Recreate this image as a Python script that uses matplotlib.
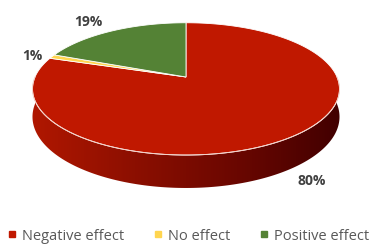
import numpy as np
import matplotlib.pyplot as plt
from matplotlib.lines import Line2D
from matplotlib.patches import Polygon
import matplotlib.colors as mcolors

labels = ['Negative effect', 'No effect', 'Positive effect']
values = [80, 1, 19]
colors = ['#C01800', '#FFD54F', '#548235']
pct_labels = ['80%', '1%', '19%']

# pie geometry in pixels (perspective ellipse)
cx, cy = 186, 77
a, b, k = 151, 64, 0.18
h = 27


def proj(theta, drop=0.0):
    # theta in degrees, clockwise from 12 o'clock (far side)
    t = np.radians(theta)
    u, v = np.sin(t), np.cos(t)
    s = 1 + k * v
    return cx + a * u / s, cy - b * v / s + drop / s


fig = plt.figure(figsize=(3.73, 2.46), dpi=100)
ax = fig.add_axes([0, 0, 1, 1])

# side wall (visible front half), shaded left->right
side_cmap = mcolors.LinearSegmentedColormap.from_list(
    'side', ['#B01700', '#8C0F00', '#6A0700', '#420000'])
th = np.linspace(270, 90, 200)
xt, yt = proj(th)
xb, yb = proj(th[::-1], h)
side = Polygon(np.c_[np.r_[xt, xb], np.r_[yt, yb]], closed=True,
               fc='none', ec='none')
ax.add_patch(side)
grad = np.linspace(0, 1, 256)[None, :]
img = ax.imshow(grad, cmap=side_cmap, extent=(xt.min(), xt.max(), 200, 80),
                aspect='auto', zorder=1)
img.set_clip_path(side)

# top face wedges
total = sum(values)
start = 0.0
for val, col in zip(values, colors):
    span = 360 * val / total
    tt = np.linspace(start, start + span, max(int(span), 2) + 1)
    xs, ys = proj(tt)
    ax.fill(np.r_[cx, xs], np.r_[cy, ys], color=col, ec='white', lw=0.6,
            zorder=2)
    start += span

# edge between top and side
tt = np.linspace(90, 270, 200)
xs, ys = proj(tt)
ax.plot(xs, ys, color='#F3D0C8', lw=0.7, zorder=3)

# data labels
label_pos = [(312, 181), (32, 56), (88, 22)]
for (x, y), txt in zip(label_pos, pct_labels):
    ax.text(x, y, txt, ha='center', va='center', fontsize=10,
            fontweight='bold', color='#404040', family='Open Sans')

ax.set_xlim(0, 373)
ax.set_ylim(246, 0)
ax.axis('off')

handles = [Line2D([], [], marker='s', ls='', color=c, markersize=4.5)
           for c in colors]
fig.legend(handles, labels, loc='center', bbox_to_anchor=(0.505, 1 - 236 / 246),
           ncol=3, frameon=False, handlelength=0.6, handletextpad=0.4,
           columnspacing=2.0, prop={'family': 'Open Sans', 'size': 10.5},
           labelcolor='#595959')

fig.savefig('out.png', dpi=100)
